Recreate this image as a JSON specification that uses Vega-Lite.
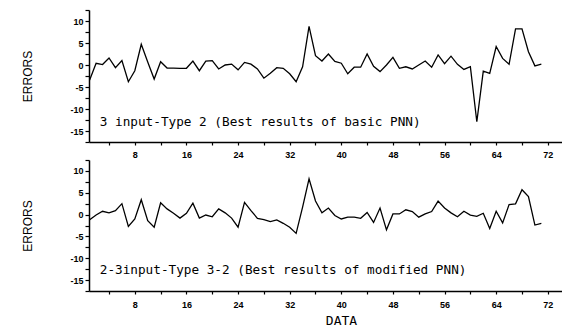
{
  "$schema": "https://vega.github.io/schema/vega-lite/v6.json",
  "background": "white",
  "padding": {"left": 21, "top": 6, "right": 0, "bottom": 0},
  "spacing": 18,
  "bounds": "flush",
  "datasets": {
    "top": [
      {"data": 1, "error": -3.4}, {"data": 2, "error": 0.4}, {"data": 3, "error": 0.1}, {"data": 4, "error": 1.6},
      {"data": 5, "error": -0.6}, {"data": 6, "error": 1.0}, {"data": 7, "error": -3.8}, {"data": 8, "error": -1.3},
      {"data": 9, "error": 4.7}, {"data": 10, "error": 0.7}, {"data": 11, "error": -3.2}, {"data": 12, "error": 0.75},
      {"data": 13, "error": -0.7}, {"data": 14, "error": -0.7}, {"data": 15, "error": -0.75}, {"data": 16, "error": -0.75},
      {"data": 17, "error": 0.9}, {"data": 18, "error": -1.3}, {"data": 19, "error": 0.9}, {"data": 20, "error": 1.0},
      {"data": 21, "error": -0.9}, {"data": 22, "error": 0.0}, {"data": 23, "error": 0.2}, {"data": 24, "error": -1.1},
      {"data": 25, "error": 0.6}, {"data": 26, "error": 0.2}, {"data": 27, "error": -0.9}, {"data": 28, "error": -3.0},
      {"data": 29, "error": -1.9}, {"data": 30, "error": -0.6}, {"data": 31, "error": -0.75}, {"data": 32, "error": -2.0},
      {"data": 33, "error": -3.8}, {"data": 34, "error": -0.4}, {"data": 35, "error": 8.8}, {"data": 36, "error": 2.1},
      {"data": 37, "error": 0.9}, {"data": 38, "error": 2.5}, {"data": 39, "error": 0.8}, {"data": 40, "error": 0.4},
      {"data": 41, "error": -2.0}, {"data": 42, "error": -0.5}, {"data": 43, "error": -0.5}, {"data": 44, "error": 2.5},
      {"data": 45, "error": -0.3}, {"data": 46, "error": -1.5}, {"data": 47, "error": 0.0}, {"data": 48, "error": 1.75},
      {"data": 49, "error": -0.75}, {"data": 50, "error": -0.4}, {"data": 51, "error": -0.9}, {"data": 52, "error": 0.0},
      {"data": 53, "error": 0.9}, {"data": 54, "error": -0.5}, {"data": 55, "error": 2.3}, {"data": 56, "error": 0.3},
      {"data": 57, "error": 2.0}, {"data": 58, "error": 0.15}, {"data": 59, "error": -1.0}, {"data": 60, "error": -0.4},
      {"data": 61, "error": -12.9}, {"data": 62, "error": -1.4}, {"data": 63, "error": -1.9}, {"data": 64, "error": 4.2},
      {"data": 65, "error": 1.5}, {"data": 66, "error": 0.15}, {"data": 67, "error": 8.2}, {"data": 68, "error": 8.2},
      {"data": 69, "error": 3.0}, {"data": 70, "error": -0.2}, {"data": 71, "error": 0.2}
    ],
    "bottom": [
      {"data": 1, "error": -1.2}, {"data": 2, "error": -0.1}, {"data": 3, "error": 0.75}, {"data": 4, "error": 0.4},
      {"data": 5, "error": 0.9}, {"data": 6, "error": 2.5}, {"data": 7, "error": -2.7}, {"data": 8, "error": -1.0},
      {"data": 9, "error": 3.4}, {"data": 10, "error": -1.4}, {"data": 11, "error": -2.9}, {"data": 12, "error": 2.7},
      {"data": 13, "error": 1.3}, {"data": 14, "error": 0.3}, {"data": 15, "error": -0.8}, {"data": 16, "error": 0.3},
      {"data": 17, "error": 2.6}, {"data": 18, "error": -0.8}, {"data": 19, "error": -0.1}, {"data": 20, "error": -0.5},
      {"data": 21, "error": 1.3}, {"data": 22, "error": 0.4}, {"data": 23, "error": -0.8}, {"data": 24, "error": -2.9},
      {"data": 25, "error": 2.8}, {"data": 26, "error": 0.9}, {"data": 27, "error": -0.85}, {"data": 28, "error": -1.15},
      {"data": 29, "error": -1.6}, {"data": 30, "error": -1.2}, {"data": 31, "error": -2.0}, {"data": 32, "error": -2.9},
      {"data": 33, "error": -4.3}, {"data": 34, "error": 1.7}, {"data": 35, "error": 8.2}, {"data": 36, "error": 3.1},
      {"data": 37, "error": 0.4}, {"data": 38, "error": 1.5}, {"data": 39, "error": -0.2}, {"data": 40, "error": -1.0},
      {"data": 41, "error": -0.6}, {"data": 42, "error": -0.6}, {"data": 43, "error": -0.85}, {"data": 44, "error": 0.5},
      {"data": 45, "error": -1.8}, {"data": 46, "error": 1.5}, {"data": 47, "error": -3.5}, {"data": 48, "error": 0.15},
      {"data": 49, "error": 0.15}, {"data": 50, "error": 1.1}, {"data": 51, "error": 0.7}, {"data": 52, "error": -0.6},
      {"data": 53, "error": 0.15}, {"data": 54, "error": 0.7}, {"data": 55, "error": 3.1}, {"data": 56, "error": 1.5},
      {"data": 57, "error": 0.4}, {"data": 58, "error": -0.5}, {"data": 59, "error": 0.75}, {"data": 60, "error": -0.1},
      {"data": 61, "error": -0.4}, {"data": 62, "error": 0.3}, {"data": 63, "error": -3.2}, {"data": 64, "error": 0.75},
      {"data": 65, "error": -1.9}, {"data": 66, "error": 2.3}, {"data": 67, "error": 2.45}, {"data": 68, "error": 5.7},
      {"data": 69, "error": 4.1}, {"data": 70, "error": -2.4}, {"data": 71, "error": -2.0}
    ]
  },
  "config": {
    "view": {"stroke": null},
    "axis": {
      "grid": false,
      "domainColor": "black",
      "domainWidth": 1.5,
      "tickColor": "black",
      "tickWidth": 1.2,
      "labelColor": "black",
      "labelFont": "Liberation Sans",
      "labelFontWeight": "bold",
      "labelFontSize": 9,
      "labelFlush": false,
      "labelOverlap": false,
      "titleColor": "black",
      "titleFont": "Liberation Sans",
      "titleFontWeight": "normal",
      "titleFontSize": 12
    }
  },
  "vconcat": [
    {
      "width": 473,
      "height": 132,
      "layer": [
        {
          "data": {"name": "top"},
          "mark": {"type": "line", "color": "black", "strokeWidth": 1.3},
          "encoding": {
            "x": {
              "field": "data", "type": "quantitative",
              "scale": {"domain": [0.9, 74.2], "nice": false, "zero": false},
              "axis": {
                "title": null,
                "values": [4, 8, 12, 16, 20, 24, 28, 32, 36, 40, 44, 48, 52, 56, 60, 64, 68, 72],
                "labelExpr": "(datum.value / 8) == floor(datum.value / 8) ? datum.label : ''",
                "tickSize": 3, "labelPadding": 5
              }
            },
            "y": {
              "field": "error", "type": "quantitative",
              "scale": {"domain": [-17.5, 12.5], "nice": false, "zero": false},
              "axis": {
                "title": "ERRORS",
                "format": "d",
                "values": [-17.5, -15, -12.5, -10, -7.5, -5, -2.5, 0, 2.5, 5, 7.5, 10, 12.5],
                "labelExpr": "(datum.value / 5) == floor(datum.value / 5) ? replace(datum.label, '\u2212', '-') : ''",
                "tickSize": 4, "labelPadding": 2, "titlePadding": 35
              }
            }
          }
        },
        {
          "data": {"values": [{"label": "3 input-Type 2 (Best results of basic PNN)"}]},
          "mark": {"type": "text", "align": "left", "baseline": "alphabetic", "font": "DejaVu Sans Mono", "fontSize": 12.7, "color": "black"},
          "encoding": {
            "x": {
              "datum": 2.57, "type": "quantitative",
              "axis": {
                "title": null,
                "values": [4, 8, 12, 16, 20, 24, 28, 32, 36, 40, 44, 48, 52, 56, 60, 64, 68, 72],
                "labelExpr": "(datum.value / 8) == floor(datum.value / 8) ? datum.label : ''",
                "tickSize": 3, "labelPadding": 5
              }
            },
            "y": {
              "datum": -13.9, "type": "quantitative",
              "axis": {
                "title": "ERRORS",
                "format": "d",
                "values": [-17.5, -15, -12.5, -10, -7.5, -5, -2.5, 0, 2.5, 5, 7.5, 10, 12.5],
                "labelExpr": "(datum.value / 5) == floor(datum.value / 5) ? replace(datum.label, '\u2212', '-') : ''",
                "tickSize": 4, "labelPadding": 2, "titlePadding": 35
              }
            },
            "text": {"field": "label"}
          }
        }
      ]
    },
    {
      "width": 473,
      "height": 131,
      "layer": [
        {
          "data": {"name": "bottom"},
          "mark": {"type": "line", "color": "black", "strokeWidth": 1.3},
          "encoding": {
            "x": {
              "field": "data", "type": "quantitative",
              "scale": {"domain": [0.9, 74.2], "nice": false, "zero": false},
              "axis": {
                "title": "DATA",
                "titleFont": "DejaVu Sans Mono",
                "titleFontSize": 13,
                "titlePadding": 5,
                "titleX": 252,
                "values": [4, 8, 12, 16, 20, 24, 28, 32, 36, 40, 44, 48, 52, 56, 60, 64, 68, 72],
                "labelExpr": "(datum.value / 8) == floor(datum.value / 8) ? datum.label : ''",
                "tickSize": 3, "labelPadding": 6
              }
            },
            "y": {
              "field": "error", "type": "quantitative",
              "scale": {"domain": [-17.5, 12.5], "nice": false, "zero": false},
              "axis": {
                "title": "ERRORS",
                "format": "d",
                "values": [-17.5, -15, -12.5, -10, -7.5, -5, -2.5, 0, 2.5, 5, 7.5, 10, 12.5],
                "labelExpr": "(datum.value / 5) == floor(datum.value / 5) ? replace(datum.label, '\u2212', '-') : ''",
                "tickSize": 4, "labelPadding": 2, "titlePadding": 35
              }
            }
          }
        },
        {
          "data": {"values": [{"label": "2-3input-Type 3-2 (Best results of modified PNN)"}]},
          "mark": {"type": "text", "align": "left", "baseline": "alphabetic", "font": "DejaVu Sans Mono", "fontSize": 12.7, "color": "black"},
          "encoding": {
            "x": {
              "datum": 2.57, "type": "quantitative",
              "axis": {
                "title": "DATA",
                "titleFont": "DejaVu Sans Mono",
                "titleFontSize": 13,
                "titlePadding": 5,
                "titleX": 252,
                "values": [4, 8, 12, 16, 20, 24, 28, 32, 36, 40, 44, 48, 52, 56, 60, 64, 68, 72],
                "labelExpr": "(datum.value / 8) == floor(datum.value / 8) ? datum.label : ''",
                "tickSize": 3, "labelPadding": 6
              }
            },
            "y": {
              "datum": -13.7, "type": "quantitative",
              "axis": {
                "title": "ERRORS",
                "format": "d",
                "values": [-17.5, -15, -12.5, -10, -7.5, -5, -2.5, 0, 2.5, 5, 7.5, 10, 12.5],
                "labelExpr": "(datum.value / 5) == floor(datum.value / 5) ? replace(datum.label, '\u2212', '-') : ''",
                "tickSize": 4, "labelPadding": 2, "titlePadding": 35
              }
            },
            "text": {"field": "label"}
          }
        }
      ]
    }
  ]
}
